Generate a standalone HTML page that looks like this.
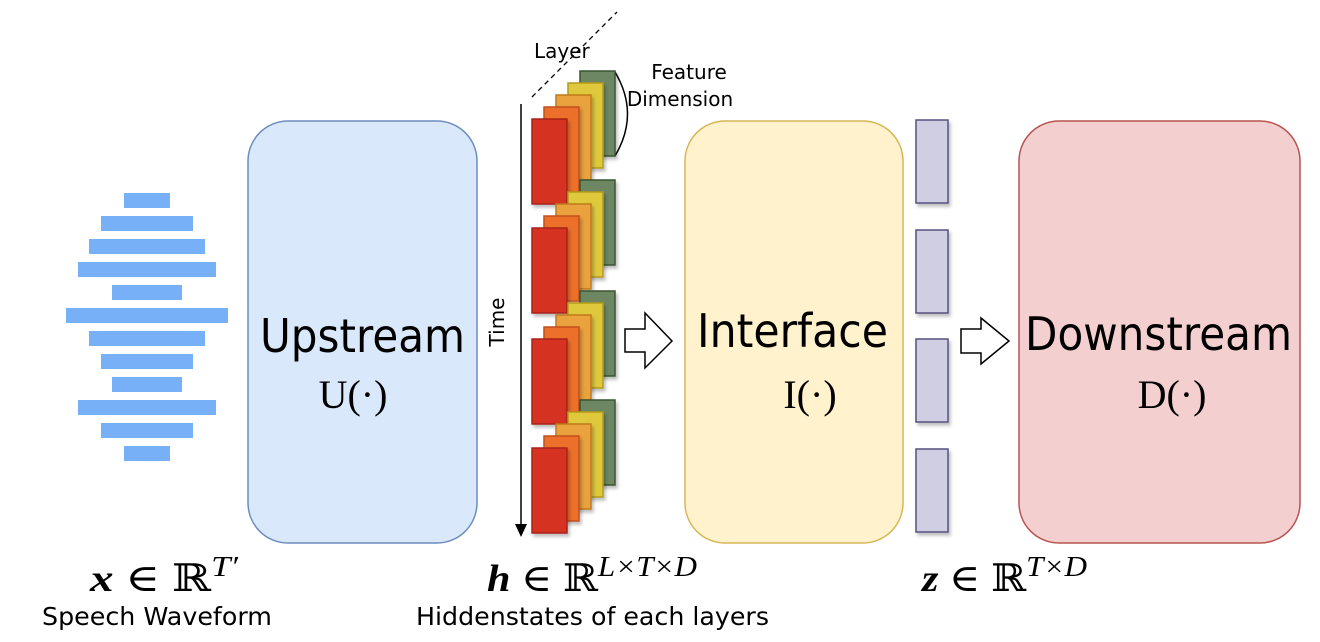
<!DOCTYPE html>
<html><head><meta charset="utf-8"><style>
html,body{margin:0;padding:0;background:#fff;}
svg{display:block;}
.s{font-family:"DejaVu Sans","Liberation Sans",sans-serif;}
.m{font-family:"Liberation Serif","DejaVu Serif",serif;}
</style></head><body>
<svg width="1320" height="642" viewBox="0 0 1320 642" xmlns="http://www.w3.org/2000/svg">
<defs>
<filter id="sh" x="-30%" y="-30%" width="160%" height="160%"><feDropShadow dx="2" dy="3" stdDeviation="1.5" flood-color="#000" flood-opacity="0.25"/></filter>
<g id="stk">
<rect x="580" y="0" width="35" height="85" fill="#6d8764" stroke="#3a5431" stroke-width="1.5" filter="url(#sh)"/>
<rect x="568" y="12" width="35" height="85" fill="#e0c83c" stroke="#b49a1c" stroke-width="1.5" filter="url(#sh)"/>
<rect x="556" y="24" width="35" height="85" fill="#e9a23c" stroke="#c07a1c" stroke-width="1.5" filter="url(#sh)"/>
<rect x="544" y="36" width="35" height="85" fill="#ec6f2c" stroke="#c2501a" stroke-width="1.5" filter="url(#sh)"/>
<rect x="532" y="48" width="35" height="85" fill="#d63222" stroke="#a8231a" stroke-width="1.5" filter="url(#sh)"/>
</g>
</defs>
<g fill="#78b0f8">
<rect x="124" y="193" width="46" height="15"/>
<rect x="101" y="216" width="92" height="15"/>
<rect x="89" y="239" width="116" height="15"/>
<rect x="78" y="262" width="138" height="15"/>
<rect x="112" y="285" width="70" height="15"/>
<rect x="66" y="308" width="162" height="15"/>
<rect x="89" y="331" width="116" height="15"/>
<rect x="101" y="354" width="92" height="15"/>
<rect x="112" y="377" width="70" height="15"/>
<rect x="78" y="400" width="138" height="15"/>
<rect x="101" y="423" width="92" height="15"/>
<rect x="124" y="446" width="46" height="15"/>
</g>
<rect x="248" y="121" width="229" height="422" rx="40" fill="#dae8fc" stroke="#6c8ebf" stroke-width="1.5"/>
<rect x="685" y="121" width="218" height="422" rx="40" fill="#fff2cc" stroke="#d6b656" stroke-width="1.5"/>
<rect x="1019" y="121" width="281" height="422" rx="40" fill="#f3d0cf" stroke="#b85450" stroke-width="1.5"/>
<text class="s" x="260" y="352" style="font-size:46px" textLength="205" lengthAdjust="spacingAndGlyphs">Upstream</text>
<text class="s" x="697" y="347" style="font-size:46px" textLength="191" lengthAdjust="spacingAndGlyphs">Interface</text>
<text class="s" x="1025" y="350" style="font-size:46px" textLength="267" lengthAdjust="spacingAndGlyphs">Downstream</text>
<text class="m" x="353" y="408" style="font-size:40px" text-anchor="middle">U(·)</text>
<text class="m" x="810" y="408" style="font-size:40px" text-anchor="middle">I(·)</text>
<text class="m" x="1172" y="408" style="font-size:40px" text-anchor="middle">D(·)</text>
<line x1="532" y1="97" x2="617" y2="12" stroke="#000" stroke-width="1.3" stroke-dasharray="5,4"/>
<text class="s" x="534" y="58" style="font-size:20px">Layer</text>
<text class="s" x="689" y="79" style="font-size:20px" text-anchor="middle">Feature</text>
<text class="s" x="680" y="106" style="font-size:20px" text-anchor="middle">Dimension</text>
<path d="M615 72 Q640 114 615 156" fill="none" stroke="#000" stroke-width="1.5"/>
<line x1="521" y1="104" x2="521" y2="526" stroke="#000" stroke-width="1.5"/>
<path d="M515 524 L521 537 L527 524 Z" fill="#000"/>
<text class="s" style="font-size:20px" transform="translate(504,322) rotate(-90)" text-anchor="middle">Time</text>
<use href="#stk" transform="translate(0,71)"/>
<use href="#stk" transform="translate(0,180)"/>
<use href="#stk" transform="translate(0,291)"/>
<use href="#stk" transform="translate(0,400)"/>
<path d="M625 329 L645 329 L645 313 L672 341 L645 368 L645 352 L625 352 Z" fill="#fff" stroke="#000" stroke-width="1.5"/>
<path d="M961 329 L981 329 L981 318 L1009 341 L981 364 L981 353 L961 353 Z" fill="#fff" stroke="#000" stroke-width="1.5"/>
<g fill="#d0cee2" stroke="#56517e" stroke-width="1.5" filter="url(#sh)">
<rect x="916" y="120" width="32" height="83"/>
<rect x="916" y="230" width="32" height="83"/>
<rect x="916" y="339" width="32" height="83"/>
<rect x="916" y="449" width="32" height="83"/>
</g>
<text class="m" x="90" y="591" style="font-size:38px" textLength="148" lengthAdjust="spacingAndGlyphs"><tspan font-weight="bold" font-style="italic">x</tspan> ∈ ℝ<tspan style="font-size:28px" font-style="italic" dy="-15">T′</tspan></text>
<text class="s" x="42" y="625" style="font-size:25px" textLength="230" lengthAdjust="spacingAndGlyphs">Speech Waveform</text>
<text class="m" x="487" y="591" style="font-size:38px" textLength="210" lengthAdjust="spacingAndGlyphs"><tspan font-weight="bold" font-style="italic">h</tspan> ∈ ℝ<tspan style="font-size:28px" font-style="italic" dy="-15">L×T×D</tspan></text>
<text class="s" x="416" y="625" style="font-size:25px" textLength="353" lengthAdjust="spacingAndGlyphs">Hiddenstates of each layers</text>
<text class="m" x="922" y="591" style="font-size:38px" textLength="165" lengthAdjust="spacingAndGlyphs"><tspan font-weight="bold" font-style="italic">z</tspan> ∈ ℝ<tspan style="font-size:28px" font-style="italic" dy="-15">T×D</tspan></text>
</svg>
</body></html>
